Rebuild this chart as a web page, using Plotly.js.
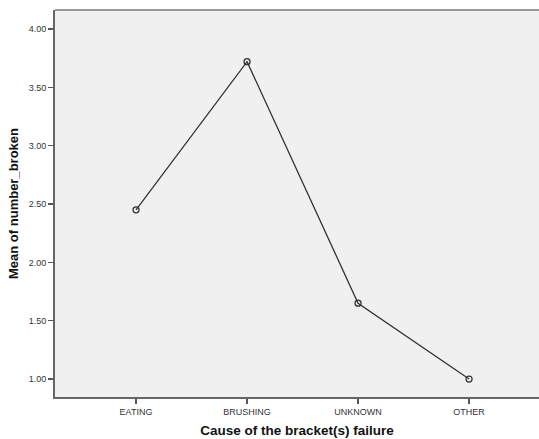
<!DOCTYPE html>
<html><head><meta charset="utf-8">
<script src="https://cdn.plot.ly/plotly-3.0.1.min.js"></script>
<style>html,body{margin:0;padding:0;background:#fff;}#chart{width:539px;height:439px;}</style>
</head><body><div id="chart"></div>
<script>
var categories = ["EATING", "BRUSHING", "UNKNOWN", "OTHER"];
var meanValues = [2.45, 3.72, 1.65, 1.00];
var yTickVals = [1.0, 1.5, 2.0, 2.5, 3.0, 3.5, 4.0];
var yTickText = ["1.00", "1.50", "2.00", "2.50", "3.00", "3.50", "4.00"];

var trace = {
  x: categories.map(function(c, i){ return i; }),
  y: meanValues,
  type: "scatter",
  mode: "lines+markers",
  line: {color: "#333333", width: 1.3},
  marker: {symbol: "circle-open", size: 6, color: "#333333", line: {width: 1.3}},
  hoverinfo: "skip"
};

var layout = {
  width: 539, height: 439,
  margin: {l: 55, r: 0, t: 10, b: 42},
  paper_bgcolor: "#ffffff",
  plot_bgcolor: "#f0f0f0",
  showlegend: false,
  font: {family: "Liberation Sans, Arial, sans-serif", color: "#333333"},
  xaxis: {
    range: [-0.73, 3.63],
    tickvals: categories.map(function(c, i){ return i; }),
    ticktext: categories,
    ticks: "outside", ticklen: 5, tickcolor: "#555555", tickwidth: 1.3,
    showline: true, linecolor: "#666666", linewidth: 2,
    showgrid: false, zeroline: false,
    tickfont: {size: 9, color: "#333333"},
    title: {text: "<b>Cause of the bracket(s) failure</b>", font: {size: 13.5, color: "#111111", family: "Liberation Sans, Arial, sans-serif"}, standoff: 10}
  },
  yaxis: {
    range: [0.846, 4.163],
    tickvals: yTickVals,
    ticktext: yTickText,
    ticks: "outside", ticklen: 5, tickcolor: "#555555", tickwidth: 1.3,
    showline: true, linecolor: "#666666", linewidth: 2,
    showgrid: false, zeroline: false,
    tickfont: {size: 9, color: "#333333"},
    title: {text: "<b>Mean of number_broken</b>", font: {size: 13, color: "#111111", family: "Liberation Sans, Arial, sans-serif"}, standoff: 7}
  },
  shapes: [{type: "line", xref: "paper", yref: "paper", x0: 0, x1: 1, y0: 1, y1: 1, line: {color: "#999999", width: 2}}]
};

Plotly.newPlot("chart", [trace], layout, {displayModeBar: false, staticPlot: true});
</script></body></html>
